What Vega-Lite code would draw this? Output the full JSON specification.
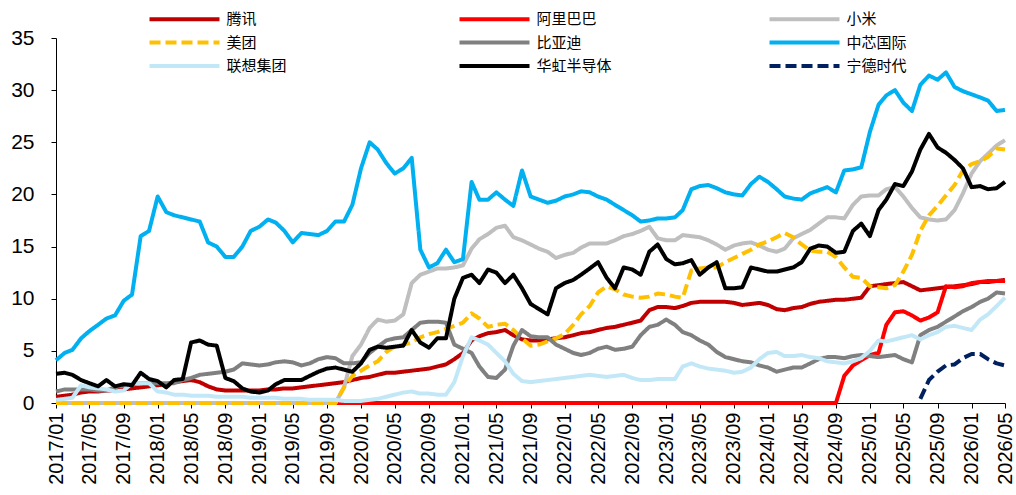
{
  "$schema": "https://vega.github.io/schema/vega-lite/v6.json",
  "width": 949,
  "height": 365,
  "autosize": {"type": "none"},
  "padding": {"left": 56, "top": 38, "right": 11, "bottom": 92},
  "background": "#ffffff",
  "data": {"values": [
{"d":"2017-01-01","腾讯":0.6,"阿里巴巴":0,"小米":0,"美团":0,"比亚迪":1.1,"中芯国际":4.1,"联想集团":0.3,"华虹半导体":2.8},
{"d":"2017-02-01","腾讯":0.7,"阿里巴巴":0,"小米":0,"美团":0,"比亚迪":1.3,"中芯国际":4.8,"联想集团":0.4,"华虹半导体":2.9},
{"d":"2017-03-01","腾讯":0.8,"阿里巴巴":0,"小米":0,"美团":0,"比亚迪":1.3,"中芯国际":5.1,"联想集团":0.5,"华虹半导体":2.7},
{"d":"2017-04-01","腾讯":1.0,"阿里巴巴":0,"小米":0,"美团":0,"比亚迪":1.3,"中芯国际":6.2,"联想集团":1.7,"华虹半导体":2.2},
{"d":"2017-05-01","腾讯":1.1,"阿里巴巴":0,"小米":0,"美团":0,"比亚迪":1.3,"中芯国际":6.9,"联想集团":1.5,"华虹半导体":1.9},
{"d":"2017-06-01","腾讯":1.1,"阿里巴巴":0,"小米":0,"美团":0,"比亚迪":1.2,"中芯国际":7.5,"联想集团":1.4,"华虹半导体":1.6},
{"d":"2017-07-01","腾讯":1.2,"阿里巴巴":0,"小米":0,"美团":0,"比亚迪":1.2,"中芯国际":8.1,"联想集团":1.3,"华虹半导体":2.2},
{"d":"2017-08-01","腾讯":1.2,"阿里巴巴":0,"小米":0,"美团":0,"比亚迪":1.5,"中芯国际":8.4,"联想集团":1.1,"华虹半导体":1.6},
{"d":"2017-09-01","腾讯":1.3,"阿里巴巴":0,"小米":0,"美团":0,"比亚迪":1.7,"中芯国际":9.8,"联想集团":1.2,"华虹半导体":1.8},
{"d":"2017-10-01","腾讯":1.4,"阿里巴巴":0,"小米":0,"美团":0,"比亚迪":1.8,"中芯国际":10.4,"联想集团":1.9,"华虹半导体":1.7},
{"d":"2017-11-01","腾讯":1.5,"阿里巴巴":0,"小米":0,"美团":0,"比亚迪":1.9,"中芯国际":16.0,"联想集团":1.9,"华虹半导体":2.9},
{"d":"2017-12-01","腾讯":1.6,"阿里巴巴":0,"小米":0,"美团":0,"比亚迪":1.9,"中芯国际":16.5,"联想集团":1.9,"华虹半导体":2.3},
{"d":"2018-01-01","腾讯":1.7,"阿里巴巴":0,"小米":0,"美团":0,"比亚迪":1.9,"中芯国际":19.8,"联想集团":1.1,"华虹半导体":2.1},
{"d":"2018-02-01","腾讯":1.8,"阿里巴巴":0,"小米":0,"美团":0,"比亚迪":1.9,"中芯国际":18.3,"联想集团":1.0,"华虹半导体":1.5},
{"d":"2018-03-01","腾讯":2.0,"阿里巴巴":0,"小米":0,"美团":0,"比亚迪":1.9,"中芯国际":18.0,"联想集团":0.8,"华虹半导体":2.2},
{"d":"2018-04-01","腾讯":2.1,"阿里巴巴":0,"小米":0,"美团":0,"比亚迪":2.2,"中芯国际":17.8,"联想集团":0.8,"华虹半导体":2.3},
{"d":"2018-05-01","腾讯":2.2,"阿里巴巴":0,"小米":0,"美团":0,"比亚迪":2.4,"中芯国际":17.6,"联想集团":0.7,"华虹半导体":5.8},
{"d":"2018-06-01","腾讯":2.0,"阿里巴巴":0,"小米":0,"美团":0,"比亚迪":2.7,"中芯国际":17.4,"联想集团":0.7,"华虹半导体":6.0},
{"d":"2018-07-01","腾讯":1.6,"阿里巴巴":0,"小米":0,"美团":0,"比亚迪":2.8,"中芯国际":15.4,"联想集团":0.7,"华虹半导体":5.6},
{"d":"2018-08-01","腾讯":1.3,"阿里巴巴":0,"小米":0,"美团":0,"比亚迪":2.9,"中芯国际":15.0,"联想集团":0.6,"华虹半导体":5.5},
{"d":"2018-09-01","腾讯":1.2,"阿里巴巴":0,"小米":0,"美团":0,"比亚迪":3.0,"中芯国际":14.0,"联想集团":0.6,"华虹半导体":2.4},
{"d":"2018-10-01","腾讯":1.2,"阿里巴巴":0,"小米":0,"美团":0,"比亚迪":3.2,"中芯国际":14.0,"联想集团":0.6,"华虹半导体":2.1},
{"d":"2018-11-01","腾讯":1.2,"阿里巴巴":0,"小米":0,"美团":0,"比亚迪":3.8,"中芯国际":15.0,"联想集团":0.6,"华虹半导体":1.4},
{"d":"2018-12-01","腾讯":1.2,"阿里巴巴":0,"小米":0,"美团":0,"比亚迪":3.7,"中芯国际":16.5,"联想集团":0.5,"华虹半导体":1.1},
{"d":"2019-01-01","腾讯":1.2,"阿里巴巴":0,"小米":0,"美团":0,"比亚迪":3.6,"中芯国际":16.9,"联想集团":0.5,"华虹半导体":1.0},
{"d":"2019-02-01","腾讯":1.3,"阿里巴巴":0,"小米":0,"美团":0,"比亚迪":3.7,"中芯国际":17.6,"联想集团":0.5,"华虹半导体":1.2},
{"d":"2019-03-01","腾讯":1.3,"阿里巴巴":0,"小米":0,"美团":0,"比亚迪":3.9,"中芯国际":17.3,"联想集团":0.5,"华虹半导体":1.8},
{"d":"2019-04-01","腾讯":1.4,"阿里巴巴":0,"小米":0,"美团":0,"比亚迪":4.0,"中芯国际":16.5,"联想集团":0.4,"华虹半导体":2.2},
{"d":"2019-05-01","腾讯":1.4,"阿里巴巴":0,"小米":0,"美团":0,"比亚迪":3.9,"中芯国际":15.4,"联想集团":0.4,"华虹半导体":2.2},
{"d":"2019-06-01","腾讯":1.5,"阿里巴巴":0,"小米":0,"美团":0,"比亚迪":3.6,"中芯国际":16.3,"联想集团":0.4,"华虹半导体":2.2},
{"d":"2019-07-01","腾讯":1.6,"阿里巴巴":0,"小米":0,"美团":0,"比亚迪":3.8,"中芯国际":16.2,"联想集团":0.3,"华虹半导体":2.6},
{"d":"2019-08-01","腾讯":1.7,"阿里巴巴":0,"小米":0,"美团":0,"比亚迪":4.2,"中芯国际":16.1,"联想集团":0.3,"华虹半导体":3.0},
{"d":"2019-09-01","腾讯":1.8,"阿里巴巴":0,"小米":0,"美团":0,"比亚迪":4.4,"中芯国际":16.5,"联想集团":0.3,"华虹半导体":3.3},
{"d":"2019-10-01","腾讯":1.9,"阿里巴巴":0,"小米":0,"美团":0,"比亚迪":4.3,"中芯国际":17.4,"联想集团":0.3,"华虹半导体":3.4},
{"d":"2019-11-01","腾讯":2.0,"阿里巴巴":0,"小米":1.5,"美团":1.5,"比亚迪":3.8,"中芯国际":17.4,"联想集团":0.2,"华虹半导体":3.2},
{"d":"2019-12-01","腾讯":2.2,"阿里巴巴":0,"小米":4.5,"美团":2.6,"比亚迪":3.8,"中芯国际":19.0,"联想集团":0.2,"华虹半导体":3.0},
{"d":"2020-01-01","腾讯":2.4,"阿里巴巴":0,"小米":5.6,"美团":3.1,"比亚迪":3.9,"中芯国际":22.5,"联想集团":0.2,"华虹半导体":3.8},
{"d":"2020-02-01","腾讯":2.5,"阿里巴巴":0,"小米":7.2,"美团":3.6,"比亚迪":4.8,"中芯国际":25.0,"联想集团":0.3,"华虹半导体":5.1},
{"d":"2020-03-01","腾讯":2.7,"阿里巴巴":0,"小米":8.0,"美团":4.0,"比亚迪":5.4,"中芯国际":24.3,"联想集团":0.4,"华虹半导体":5.4},
{"d":"2020-04-01","腾讯":2.9,"阿里巴巴":0,"小米":7.8,"美团":4.9,"比亚迪":6.0,"中芯国际":23.0,"联想集团":0.6,"华虹半导体":5.3},
{"d":"2020-05-01","腾讯":2.9,"阿里巴巴":0,"小米":7.9,"美团":5.4,"比亚迪":6.2,"中芯国际":22.0,"联想集团":0.8,"华虹半导体":5.4},
{"d":"2020-06-01","腾讯":3.0,"阿里巴巴":0,"小米":8.5,"美团":5.6,"比亚迪":6.3,"中芯国际":22.5,"联想集团":1.0,"华虹半导体":5.5},
{"d":"2020-07-01","腾讯":3.1,"阿里巴巴":0,"小米":11.5,"美团":5.8,"比亚迪":7.0,"中芯国际":23.5,"联想集团":1.1,"华虹半导体":7.0},
{"d":"2020-08-01","腾讯":3.2,"阿里巴巴":0,"小米":12.3,"美团":6.3,"比亚迪":7.7,"中芯国际":14.7,"联想集团":0.9,"华虹半导体":5.8},
{"d":"2020-09-01","腾讯":3.3,"阿里巴巴":0,"小米":12.6,"美团":6.6,"比亚迪":7.8,"中芯国际":13.0,"联想集团":0.9,"华虹半导体":5.3},
{"d":"2020-10-01","腾讯":3.5,"阿里巴巴":0,"小米":12.9,"美团":6.8,"比亚迪":7.8,"中芯国际":13.4,"联想集团":0.8,"华虹半导体":6.2},
{"d":"2020-11-01","腾讯":3.7,"阿里巴巴":0,"小米":12.9,"美团":7.1,"比亚迪":7.7,"中芯国际":14.7,"联想集团":0.8,"华虹半导体":6.2},
{"d":"2020-12-01","腾讯":4.2,"阿里巴巴":0,"小米":13.0,"美团":7.4,"比亚迪":5.6,"中芯国际":13.5,"联想集团":2.0,"华虹半导体":10.0},
{"d":"2021-01-01","腾讯":4.8,"阿里巴巴":0,"小米":13.2,"美团":7.7,"比亚迪":5.2,"中芯国际":13.8,"联想集团":4.5,"华虹半导体":12.0},
{"d":"2021-02-01","腾讯":6.0,"阿里巴巴":0,"小米":14.8,"美团":8.6,"比亚迪":4.8,"中芯国际":21.2,"联想集团":6.3,"华虹半导体":12.3},
{"d":"2021-03-01","腾讯":6.4,"阿里巴巴":0,"小米":15.7,"美团":8.1,"比亚迪":3.5,"中芯国际":19.5,"联想集团":6.0,"华虹半导体":11.5},
{"d":"2021-04-01","腾讯":6.7,"阿里巴巴":0,"小米":16.2,"美团":7.3,"比亚迪":2.5,"中芯国际":19.5,"联想集团":5.6,"华虹半导体":12.8},
{"d":"2021-05-01","腾讯":6.8,"阿里巴巴":0,"小米":16.8,"美团":7.5,"比亚迪":2.4,"中芯国际":20.2,"联想集团":4.8,"华虹半导体":12.5},
{"d":"2021-06-01","腾讯":7.0,"阿里巴巴":0,"小米":17.0,"美团":7.6,"比亚迪":3.2,"中芯国际":19.5,"联想集团":4.0,"华虹半导体":11.5},
{"d":"2021-07-01","腾讯":6.5,"阿里巴巴":0,"小米":15.9,"美团":7.0,"比亚迪":5.5,"中芯国际":18.9,"联想集团":2.8,"华虹半导体":12.3},
{"d":"2021-08-01","腾讯":6.1,"阿里巴巴":0,"小米":15.6,"美团":6.2,"比亚迪":7.0,"中芯国际":22.3,"联想集团":2.1,"华虹半导体":11.0},
{"d":"2021-09-01","腾讯":6.0,"阿里巴巴":0,"小米":15.2,"美团":5.5,"比亚迪":6.4,"中芯国际":19.8,"联想集团":2.0,"华虹半导体":9.5},
{"d":"2021-10-01","腾讯":6.0,"阿里巴巴":0,"小米":14.8,"美团":5.6,"比亚迪":6.3,"中芯国际":19.5,"联想集团":2.1,"华虹半导体":9.0},
{"d":"2021-11-01","腾讯":6.1,"阿里巴巴":0,"小米":14.5,"美团":5.9,"比亚迪":6.3,"中芯国际":19.2,"联想集团":2.2,"华虹半导体":8.5},
{"d":"2021-12-01","腾讯":6.2,"阿里巴巴":0,"小米":13.9,"美团":6.2,"比亚迪":5.6,"中芯国际":19.4,"联想集团":2.3,"华虹半导体":11.0},
{"d":"2022-01-01","腾讯":6.3,"阿里巴巴":0,"小米":14.2,"美团":6.6,"比亚迪":5.2,"中芯国际":19.8,"联想集团":2.4,"华虹半导体":11.5},
{"d":"2022-02-01","腾讯":6.5,"阿里巴巴":0,"小米":14.4,"美团":7.5,"比亚迪":4.8,"中芯国际":20.0,"联想集团":2.5,"华虹半导体":11.8},
{"d":"2022-03-01","腾讯":6.7,"阿里巴巴":0,"小米":14.9,"美团":8.5,"比亚迪":4.6,"中芯国际":20.3,"联想集团":2.6,"华虹半导体":12.3},
{"d":"2022-04-01","腾讯":6.8,"阿里巴巴":0,"小米":15.3,"美团":9.3,"比亚迪":4.8,"中芯国际":20.2,"联想集团":2.7,"华虹半导体":12.9},
{"d":"2022-05-01","腾讯":7.0,"阿里巴巴":0,"小米":15.3,"美团":10.6,"比亚迪":5.2,"中芯国际":19.8,"联想集团":2.6,"华虹半导体":13.5},
{"d":"2022-06-01","腾讯":7.2,"阿里巴巴":0,"小米":15.3,"美团":11.2,"比亚迪":5.4,"中芯国际":19.5,"联想集团":2.5,"华虹半导体":12.0},
{"d":"2022-07-01","腾讯":7.3,"阿里巴巴":0,"小米":15.6,"美团":10.9,"比亚迪":5.1,"中芯国际":19.0,"联想集团":2.6,"华虹半导体":11.0},
{"d":"2022-08-01","腾讯":7.5,"阿里巴巴":0,"小米":16.0,"美团":10.4,"比亚迪":5.2,"中芯国际":18.5,"联想集团":2.7,"华虹半导体":13.0},
{"d":"2022-09-01","腾讯":7.7,"阿里巴巴":0,"小米":16.2,"美团":10.2,"比亚迪":5.4,"中芯国际":18.0,"联想集团":2.4,"华虹半导体":12.8},
{"d":"2022-10-01","腾讯":7.9,"阿里巴巴":0,"小米":16.5,"美团":10.1,"比亚迪":6.5,"中芯国际":17.4,"联想集团":2.2,"华虹半导体":12.3},
{"d":"2022-11-01","腾讯":8.9,"阿里巴巴":0,"小米":16.9,"美团":10.2,"比亚迪":7.3,"中芯国际":17.5,"联想集团":2.2,"华虹半导体":14.5},
{"d":"2022-12-01","腾讯":9.2,"阿里巴巴":0,"小米":15.8,"美团":10.5,"比亚迪":7.5,"中芯国际":17.7,"联想集团":2.3,"华虹半导体":15.2},
{"d":"2023-01-01","腾讯":9.2,"阿里巴巴":0,"小米":15.6,"美团":10.4,"比亚迪":8.0,"中芯国际":17.7,"联想集团":2.3,"华虹半导体":13.8},
{"d":"2023-02-01","腾讯":9.1,"阿里巴巴":0,"小米":15.6,"美团":10.2,"比亚迪":7.5,"中芯国际":17.8,"联想集团":2.3,"华虹半导体":13.3},
{"d":"2023-03-01","腾讯":9.3,"阿里巴巴":0,"小米":16.1,"美团":10.1,"比亚迪":6.8,"中芯国际":18.5,"联想集团":3.5,"华虹半导体":13.4},
{"d":"2023-04-01","腾讯":9.6,"阿里巴巴":0,"小米":16.0,"美团":12.7,"比亚迪":6.5,"中芯国际":20.5,"联想集团":3.8,"华虹半导体":13.7},
{"d":"2023-05-01","腾讯":9.7,"阿里巴巴":0,"小米":15.9,"美团":12.9,"比亚迪":6.0,"中芯国际":20.8,"联想集团":3.5,"华虹半导体":12.3},
{"d":"2023-06-01","腾讯":9.7,"阿里巴巴":0,"小米":15.6,"美团":13.0,"比亚迪":5.6,"中芯国际":20.9,"联想集团":3.3,"华虹半导体":13.0},
{"d":"2023-07-01","腾讯":9.7,"阿里巴巴":0,"小米":15.2,"美团":13.0,"比亚迪":4.9,"中芯国际":20.6,"联想集团":3.2,"华虹半导体":13.5},
{"d":"2023-08-01","腾讯":9.7,"阿里巴巴":0,"小米":14.7,"美团":13.5,"比亚迪":4.4,"中芯国际":20.2,"联想集团":3.1,"华虹半导体":11.0},
{"d":"2023-09-01","腾讯":9.6,"阿里巴巴":0,"小米":15.1,"美团":13.9,"比亚迪":4.2,"中芯国际":20.0,"联想集团":2.9,"华虹半导体":11.0},
{"d":"2023-10-01","腾讯":9.4,"阿里巴巴":0,"小米":15.3,"美团":14.3,"比亚迪":4.0,"中芯国际":19.9,"联想集团":3.0,"华虹半导体":11.1},
{"d":"2023-11-01","腾讯":9.5,"阿里巴巴":0,"小米":15.4,"美团":14.7,"比亚迪":3.9,"中芯国际":21.0,"联想集团":3.4,"华虹半导体":13.0},
{"d":"2023-12-01","腾讯":9.6,"阿里巴巴":0,"小米":15.1,"美团":15.2,"比亚迪":3.6,"中芯国际":21.7,"联想集团":4.2,"华虹半导体":12.8},
{"d":"2024-01-01","腾讯":9.4,"阿里巴巴":0,"小米":14.7,"美团":15.5,"比亚迪":3.4,"中芯国际":21.2,"联想集团":4.8,"华虹半导体":12.6},
{"d":"2024-02-01","腾讯":9.0,"阿里巴巴":0,"小米":14.5,"美团":15.9,"比亚迪":3.0,"中芯国际":20.5,"联想集团":4.9,"华虹半导体":12.6},
{"d":"2024-03-01","腾讯":8.9,"阿里巴巴":0,"小米":14.8,"美团":16.3,"比亚迪":3.2,"中芯国际":19.8,"联想集团":4.5,"华虹半导体":12.8},
{"d":"2024-04-01","腾讯":9.1,"阿里巴巴":0,"小米":15.8,"美团":15.9,"比亚迪":3.4,"中芯国际":19.6,"联想集团":4.5,"华虹半导体":13.0},
{"d":"2024-05-01","腾讯":9.2,"阿里巴巴":0,"小米":16.2,"美团":15.2,"比亚迪":3.4,"中芯国际":19.5,"联想集团":4.6,"华虹半导体":13.5},
{"d":"2024-06-01","腾讯":9.5,"阿里巴巴":0,"小米":16.6,"美团":14.6,"比亚迪":3.8,"中芯国际":20.1,"联想集团":4.4,"华虹半导体":14.8},
{"d":"2024-07-01","腾讯":9.7,"阿里巴巴":0,"小米":17.2,"美团":14.5,"比亚迪":4.2,"中芯国际":20.4,"联想集团":4.3,"华虹半导体":15.1},
{"d":"2024-08-01","腾讯":9.8,"阿里巴巴":0,"小米":17.8,"美团":14.5,"比亚迪":4.4,"中芯国际":20.7,"联想集团":4.0,"华虹半导体":15.0},
{"d":"2024-09-01","腾讯":9.9,"阿里巴巴":0,"小米":17.8,"美团":14.0,"比亚迪":4.4,"中芯国际":20.2,"联想集团":3.9,"华虹半导体":14.4},
{"d":"2024-10-01","腾讯":9.9,"阿里巴巴":2.6,"小米":17.7,"美团":13.0,"比亚迪":4.3,"中芯国际":22.3,"联想集团":3.8,"华虹半导体":14.5},
{"d":"2024-11-01","腾讯":10.0,"阿里巴巴":3.6,"小米":19.0,"美团":12.1,"比亚迪":4.5,"中芯国际":22.4,"联想集团":4.0,"华虹半导体":16.5},
{"d":"2024-12-01","腾讯":10.1,"阿里巴巴":4.1,"小米":19.8,"美团":12.0,"比亚迪":4.6,"中芯国际":22.6,"联想集团":4.3,"华虹半导体":17.2},
{"d":"2025-01-01","腾讯":11.2,"阿里巴巴":4.6,"小米":19.9,"美团":11.2,"比亚迪":4.5,"中芯国际":26.0,"联想集团":5.0,"华虹半导体":16.0},
{"d":"2025-02-01","腾讯":11.3,"阿里巴巴":4.8,"小米":19.9,"美团":11.1,"比亚迪":4.4,"中芯国际":28.6,"联想集团":6.0,"华虹半导体":18.5},
{"d":"2025-03-01","腾讯":11.4,"阿里巴巴":7.5,"小米":20.5,"美团":11.0,"比亚迪":4.5,"中芯国际":29.5,"联想集团":5.9,"华虹半导体":19.5},
{"d":"2025-04-01","腾讯":11.5,"阿里巴巴":8.7,"小米":20.7,"美团":11.3,"比亚迪":4.6,"中芯国际":30.0,"联想集团":6.1,"华虹半导体":21.0},
{"d":"2025-05-01","腾讯":11.6,"阿里巴巴":8.8,"小米":19.8,"美团":12.6,"比亚迪":4.2,"中芯国际":28.8,"联想集团":6.3,"华虹半导体":20.8},
{"d":"2025-06-01","腾讯":11.2,"阿里巴巴":8.4,"小米":18.7,"美团":14.2,"比亚迪":3.9,"中芯国际":28.0,"联想集团":6.5,"华虹半导体":22.2},
{"d":"2025-07-01","腾讯":10.8,"阿里巴巴":7.9,"小米":17.8,"美团":16.5,"比亚迪":6.5,"中芯国际":30.5,"联想集团":6.1,"华虹半导体":24.3,"宁德时代":0.4},
{"d":"2025-08-01","腾讯":10.9,"阿里巴巴":8.2,"小米":17.6,"美团":18.0,"比亚迪":7.0,"中芯国际":31.4,"联想集团":6.5,"华虹半导体":25.8,"宁德时代":2.2},
{"d":"2025-09-01","腾讯":11.0,"阿里巴巴":8.7,"小米":17.5,"美团":18.9,"比亚迪":7.3,"中芯国际":31.0,"联想集团":6.8,"华虹半导体":24.5,"宁德时代":3.0},
{"d":"2025-10-01","腾讯":11.1,"阿里巴巴":11.2,"小米":17.6,"美团":19.9,"比亚迪":7.8,"中芯国际":31.7,"联想集团":7.3,"华虹半导体":24.0,"宁德时代":3.6},
{"d":"2025-11-01","腾讯":11.2,"阿里巴巴":11.1,"小米":18.5,"美团":20.9,"比亚迪":8.3,"中芯国际":30.3,"联想集团":7.4,"华虹半导体":23.3,"宁德时代":3.7},
{"d":"2025-12-01","腾讯":11.3,"阿里巴巴":11.2,"小米":20.1,"美团":22.3,"比亚迪":8.8,"中芯国际":29.9,"联想集团":7.2,"华虹半导体":22.5,"宁德时代":4.3},
{"d":"2026-01-01","腾讯":11.4,"阿里巴巴":11.5,"小米":22.0,"美团":22.9,"比亚迪":9.2,"中芯国际":29.6,"联想集团":7.0,"华虹半导体":20.7,"宁德时代":4.7},
{"d":"2026-02-01","腾讯":11.6,"阿里巴巴":11.6,"小米":23.2,"美团":23.2,"比亚迪":9.7,"中芯国际":29.3,"联想集团":8.0,"华虹半导体":20.8,"宁德时代":4.7},
{"d":"2026-03-01","腾讯":11.6,"阿里巴巴":11.7,"小米":23.9,"美团":23.6,"比亚迪":10.0,"中芯国际":29.0,"联想集团":8.5,"华虹半导体":20.5,"宁德时代":4.2},
{"d":"2026-04-01","腾讯":11.7,"阿里巴巴":11.7,"小米":24.7,"美团":24.4,"比亚迪":10.6,"中芯国际":28.0,"联想集团":9.3,"华虹半导体":20.6,"宁德时代":3.8},
{"d":"2026-05-01","腾讯":11.8,"阿里巴巴":11.7,"小米":25.2,"美团":24.3,"比亚迪":10.5,"中芯国际":28.1,"联想集团":10.1,"华虹半导体":21.2,"宁德时代":3.6}
  ]},
  "transform": [
    {"fold": ["腾讯","阿里巴巴","小米","美团","比亚迪","中芯国际","联想集团","华虹半导体","宁德时代"], "as": ["name","v"]},
    {"filter": {"field": "v", "valid": true}}
  ],
  "mark": {"type": "line", "strokeWidth": 4, "strokeJoin": "round", "strokeCap": "butt"},
  "encoding": {
    "x": {
      "field": "d", "type": "temporal",
      "scale": {"type": "utc", "domain": [{"year":2017,"month":1,"date":1,"utc":true},{"year":2026,"month":5,"date":1,"utc":true}]},
      "axis": {
        "title": null, "labelExpr": "utcFormat(datum.value, '%Y/%m')", "labelAngle": -90,
        "labelFontSize": 20, "labelFont": "Liberation Sans", "labelColor": "#000000",
        "tickSize": 5, "tickColor": "#000000", "domainColor": "#000000", "domainWidth": 1,
        "labelPadding": 4, "labelOverlap": false, "labelFlush": false, "labelBound": false, "grid": false,
        "values": [
          {"year":2017,"month":1,"date":1,"utc":true},{"year":2017,"month":5,"date":1,"utc":true},{"year":2017,"month":9,"date":1,"utc":true},
          {"year":2018,"month":1,"date":1,"utc":true},{"year":2018,"month":5,"date":1,"utc":true},{"year":2018,"month":9,"date":1,"utc":true},
          {"year":2019,"month":1,"date":1,"utc":true},{"year":2019,"month":5,"date":1,"utc":true},{"year":2019,"month":9,"date":1,"utc":true},
          {"year":2020,"month":1,"date":1,"utc":true},{"year":2020,"month":5,"date":1,"utc":true},{"year":2020,"month":9,"date":1,"utc":true},
          {"year":2021,"month":1,"date":1,"utc":true},{"year":2021,"month":5,"date":1,"utc":true},{"year":2021,"month":9,"date":1,"utc":true},
          {"year":2022,"month":1,"date":1,"utc":true},{"year":2022,"month":5,"date":1,"utc":true},{"year":2022,"month":9,"date":1,"utc":true},
          {"year":2023,"month":1,"date":1,"utc":true},{"year":2023,"month":5,"date":1,"utc":true},{"year":2023,"month":9,"date":1,"utc":true},
          {"year":2024,"month":1,"date":1,"utc":true},{"year":2024,"month":5,"date":1,"utc":true},{"year":2024,"month":9,"date":1,"utc":true},
          {"year":2025,"month":1,"date":1,"utc":true},{"year":2025,"month":5,"date":1,"utc":true},{"year":2025,"month":9,"date":1,"utc":true},
          {"year":2026,"month":1,"date":1,"utc":true},{"year":2026,"month":5,"date":1,"utc":true}
        ]
      }
    },
    "y": {
      "field": "v", "type": "quantitative",
      "scale": {"domain": [0, 35], "nice": false, "zero": true},
      "axis": {
        "title": null, "values": [0,5,10,15,20,25,30,35],
        "labelFontSize": 21, "labelFont": "Liberation Sans", "labelColor": "#000000",
        "tickSize": 5, "tickColor": "#000000", "domainColor": "#000000", "domainWidth": 1,
        "labelPadding": 17, "grid": false, "labelFlush": false, "labelBound": false
      }
    },
    "color": {
      "field": "name", "type": "nominal", "title": null,
      "scale": {
        "domain": ["腾讯","美团","联想集团","阿里巴巴","比亚迪","华虹半导体","小米","中芯国际","宁德时代"],
        "range": ["#C00000","#FFC000","#C2E8F8","#FF0000","#808080","#000000","#BFBFBF","#00B0F0","#002060"]
      }
    },
    "strokeDash": {
      "field": "name", "type": "nominal", "title": null,
      "scale": {
        "domain": ["腾讯","美团","联想集团","阿里巴巴","比亚迪","华虹半导体","小米","中芯国际","宁德时代"],
        "range": [[1,0],[11,5],[1,0],[1,0],[1,0],[1,0],[1,0],[1,0],[11,5]]
      }
    }
  },
  "config": {
    "view": {"stroke": null},
    "legend": {
      "orient": "none", "legendX": 119, "legendY": -28.5, "columns": 3, "gridAlign": "all",
      "columnPadding": 149, "rowPadding": 5.5, "padding": 0,
      "symbolType": "M-4.6667,0H4.6667", "symbolSize": 225, "symbolStrokeWidth": 4, "symbolOpacity": 1,
      "labelFont": "Noto Sans CJK SC", "labelFontSize": 15, "labelColor": "#000000", "labelOffset": 32.5, "labelLimit": 200
    }
  }
}
